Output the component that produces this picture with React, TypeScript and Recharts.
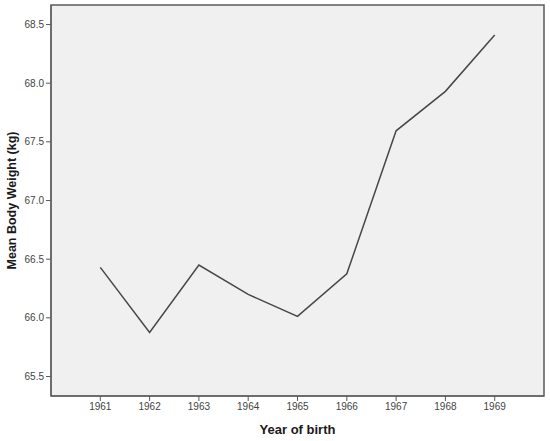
import React from 'react';
import { LineChart, Line, XAxis, YAxis, ReferenceArea } from 'recharts';

const years = [1961, 1962, 1963, 1964, 1965, 1966, 1967, 1968, 1969];
const meanWeight = [66.43, 65.875, 66.45, 66.2, 66.012, 66.375, 67.594, 67.93, 68.41];
const yTicks = [65.5, 66.0, 66.5, 67.0, 67.5, 68.0, 68.5];

const data = years.map((year, i) => ({ year, weight: meanWeight[i] }));

const FONT = '"Liberation Sans", Arial, sans-serif';
const Y_MIN = 65.334;
const Y_MAX = 68.666;

const YLabel = (props: any) => {
  const vb = props.viewBox || {};
  const cy = (vb.y ?? 0) + (vb.height ?? 0) / 2;
  const cx = 12;
  return (
    <text
      x={cx}
      y={cy}
      transform={`rotate(-90, ${cx}, ${cy})`}
      textAnchor="middle"
      dominantBaseline="central"
      style={{ fontSize: 12.5, fontWeight: 'bold', fill: '#1a1a1a', fontFamily: FONT }}
    >
      Mean Body Weight (kg)
    </text>
  );
};

export default function App() {
  return (
    <div style={{ position: 'absolute', left: 0, top: 0, width: 550, height: 441, background: '#fff' }}>
      <LineChart width={550} height={441} data={data} margin={{ top: 5, right: 6, bottom: 0, left: 0 }}>
        <ReferenceArea
          x1={1960}
          x2={1970}
          y1={Y_MIN}
          y2={Y_MAX}
          fill="#f0f0f0"
          fillOpacity={1}
          stroke="#5a5a5a"
          strokeWidth={1.5}
          ifOverflow="visible"
        />
        <XAxis
          dataKey="year"
          type="number"
          domain={[1960, 1970]}
          ticks={years}
          allowDecimals={false}
          tickSize={5}
          height={45}
          stroke="#5a5a5a"
          tick={{ fill: '#444', fontSize: 10, fontFamily: FONT }}
          label={{ value: 'Year of birth', position: 'insideBottom', offset: 7, style: { fontSize: 13, fontWeight: 'bold', fill: '#1a1a1a', fontFamily: FONT } }}
        />
        <YAxis
          type="number"
          domain={[Y_MIN, Y_MAX]}
          ticks={yTicks}
          width={51}
          tickSize={5}
          stroke="#5a5a5a"
          tickFormatter={(v: number) => v.toFixed(1)}
          tick={{ fill: '#444', fontSize: 10, fontFamily: FONT }}
          label={<YLabel />}
        />
        <Line
          type="linear"
          dataKey="weight"
          stroke="#474747"
          strokeWidth={1.5}
          dot={false}
          isAnimationActive={false}
        />
      </LineChart>
    </div>
  );
}
